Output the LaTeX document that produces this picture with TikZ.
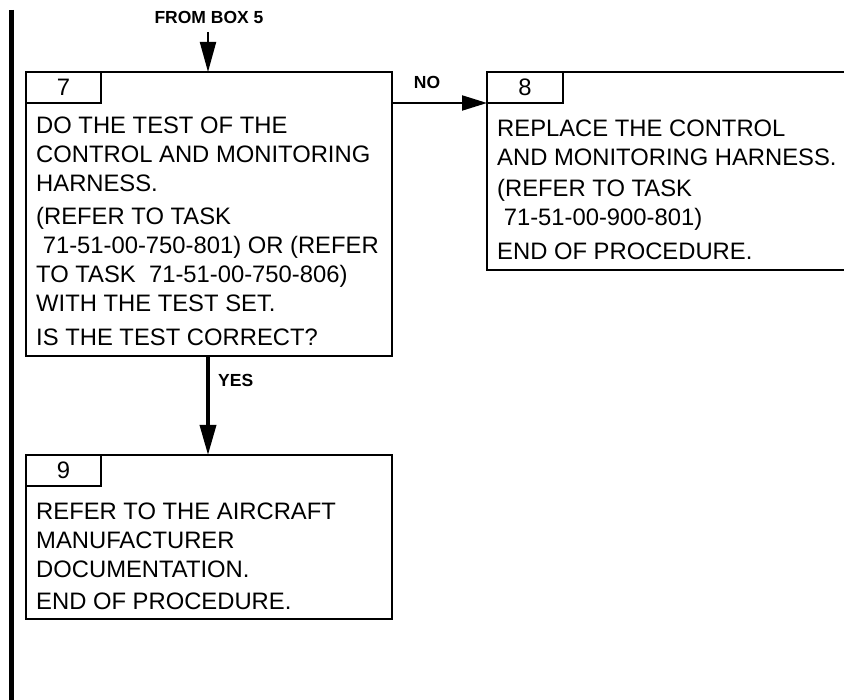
\documentclass[tikz,border=0pt]{standalone}
\usepackage{fontspec}
\setmainfont{Liberation Sans}
\usetikzlibrary{arrows.meta}
\begin{document}
\begin{tikzpicture}[x=1pt,y=-1pt,
  boxshape/.style={draw,line width=2.2pt,inner sep=0pt,outer sep=0pt,anchor=north west},
  tabshape/.style={draw,line width=2pt,inner sep=0pt,outer sep=0pt,anchor=north west,minimum width=75pt,minimum height=31pt,font=\fontsize{23.8}{28.5}\selectfont},
  line/.style={anchor=base west,inner sep=0pt,font=\fontsize{23.8}{28.5}\selectfont},
  lbl/.style={inner sep=0pt,font=\fontsize{17.5}{20}\selectfont\bfseries},
  arr/.style={-{Triangle[length=30pt,width=16pt]},line width=2.4pt}
]
\useasboundingbox (0,0) rectangle (844,700);
% left bar
\coordinate (bartop) at (11,10);
\coordinate (barbot) at (11,700);
\draw[line width=5pt] (bartop) -- (barbot);

% boxes
\node[boxshape,minimum width=366pt,minimum height=284pt] (b7) at (26,72) {};
\node[tabshape] (t7) at (26,72) {7};
\node[boxshape,minimum width=366pt,minimum height=198pt] (b8) at (487,72) {};
\node[tabshape,minimum width=76pt] (t8) at (487,72) {8};
\node[boxshape,minimum width=366pt,minimum height=164pt] (b9) at (26,455) {};
\node[tabshape] (t9) at (26,455) {9};

% box 7 text
\node[line] (l71) at (36,134) {DO THE TEST OF THE};
\node[line] (l72) at (36,163) {CONTROL AND MONITORING};
\node[line] (l73) at (36,192) {HARNESS.};
\node[line] (l74) at (36,225) {(REFER TO TASK};
\node[line] (l75) at (36,254) {\hspace{6.6pt}71-51-00-750-801) OR (REFER};
\node[line] (l76) at (36,283) {TO TASK\hspace{13.2pt}71-51-00-750-806)};
\node[line] (l77) at (36,312) {WITH THE TEST SET.};
\node[line] (l78) at (36,346) {IS THE TEST CORRECT?};

% box 8 text
\node[line] (l81) at (497,137) {REPLACE THE CONTROL};
\node[line] (l82) at (497,166) {AND MONITORING HARNESS.};
\node[line] (l83) at (497,197) {(REFER TO TASK};
\node[line] (l84) at (497,226) {\hspace{6.6pt}71-51-00-900-801)};
\node[line] (l85) at (497,260) {END OF PROCEDURE.};

% box 9 text
\node[line] (l91) at (36,520) {REFER TO THE AIRCRAFT};
\node[line] (l92) at (36,548.5) {MANUFACTURER};
\node[line] (l93) at (36,577) {DOCUMENTATION.};
\node[line] (l94) at (36,609) {END OF PROCEDURE.};

% labels
\node[lbl] (from) at (209,17) {FROM BOX 5};
\node[lbl] (no) at (427,82) {NO};
\node[lbl,anchor=west] (yes) at (218,380) {YES};

% connectors
\coordinate (src) at (208,32);
\draw[arr,line width=2pt] (src) -- (src |- b7.north);
\draw[arr,line width=2pt,-{Triangle[length=25pt,width=15pt]}] (b7.east |- t8.south west) -- (t8.south west);
\draw[arr,line width=3.5pt] (b7.south -| src) -- (b9.north -| src);
\end{tikzpicture}
\end{document}
